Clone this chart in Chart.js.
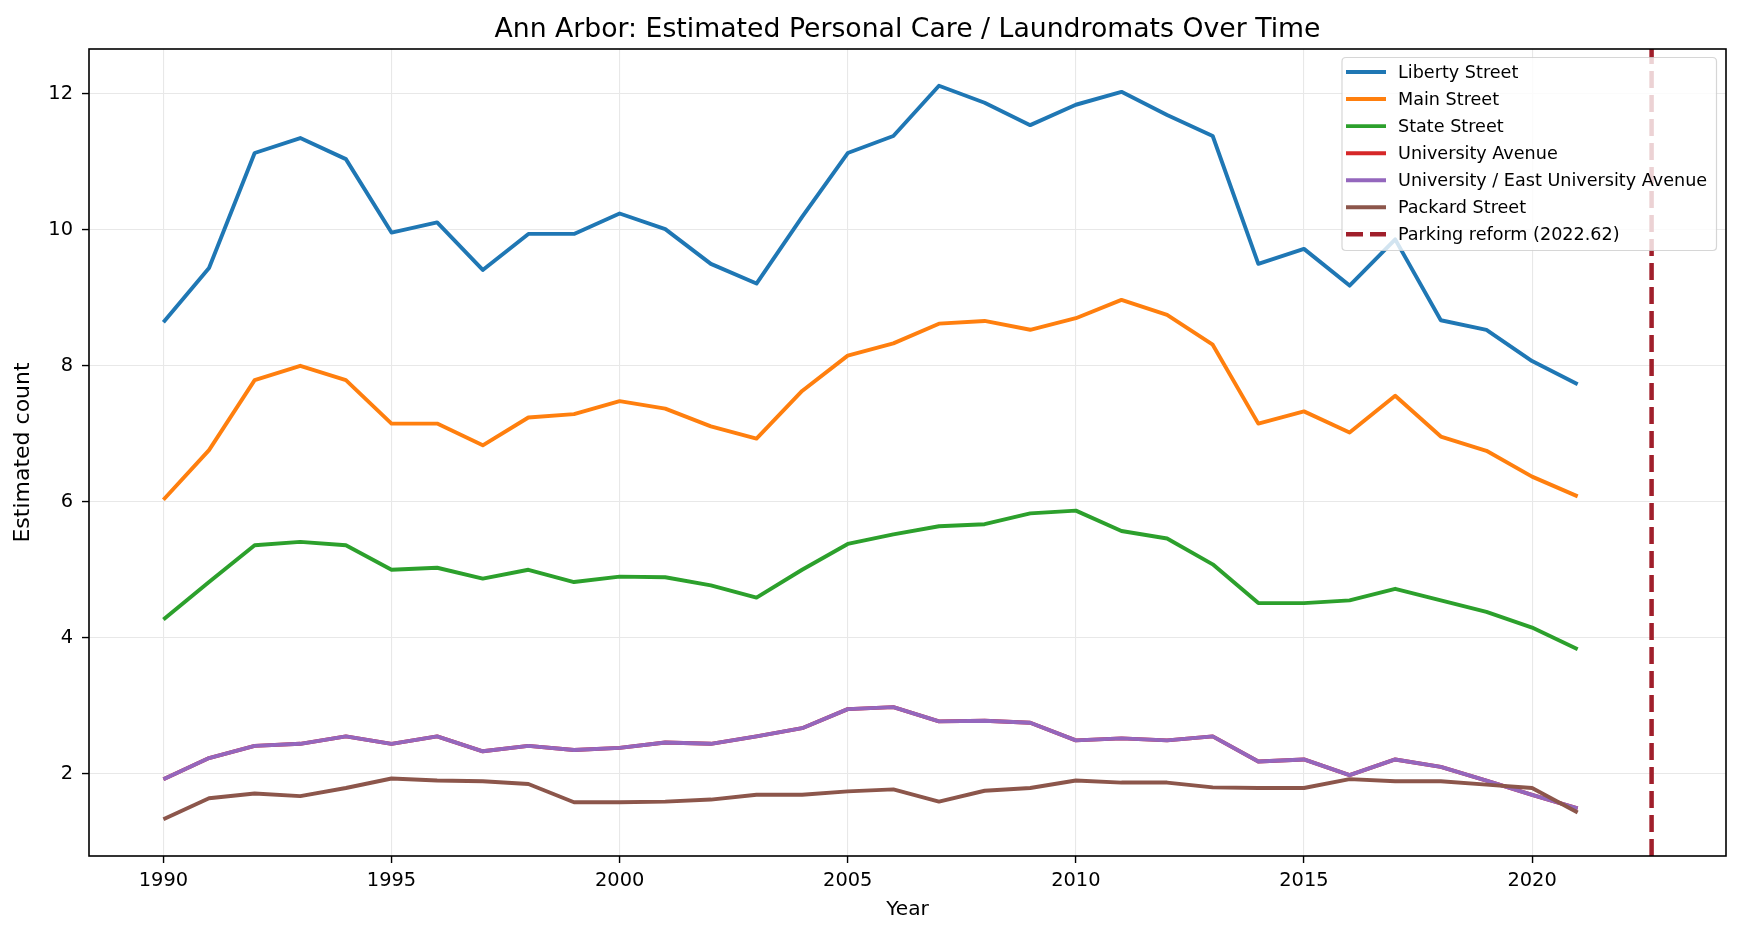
<!DOCTYPE html>
<html>
<head>
<meta charset="utf-8">
<script src="https://cdn.jsdelivr.net/npm/chart.js@4"></script>
<style>
html,body{margin:0;padding:0;background:#ffffff;}
#wrap{width:1741px;height:936px;}
</style>
</head>
<body>
<div id="wrap"><canvas id="c" width="1741" height="936"></canvas></div>
<script>
// ---- data ----
const years = [1990,1991,1992,1993,1994,1995,1996,1997,1998,1999,2000,2001,2002,2003,2004,2005,2006,2007,2008,2009,2010,2011,2012,2013,2014,2015,2016,2017,2018,2019,2020,2021];
const libertyStreet = [8.64,9.44,11.13,11.35,11.04,9.96,10.11,9.41,9.94,9.94,10.24,10.01,9.50,9.21,10.19,11.13,11.38,12.12,11.87,11.54,11.84,12.03,11.69,11.38,9.50,9.72,9.18,9.86,8.67,8.53,8.07,7.73];
const mainStreet = [6.03,6.76,7.79,8.00,7.79,7.15,7.15,6.83,7.24,7.29,7.48,7.37,7.11,6.93,7.63,8.15,8.33,8.62,8.66,8.53,8.70,8.97,8.75,8.31,7.15,7.33,7.02,7.56,6.96,6.75,6.37,6.08];
const stateStreet = [4.27,4.82,5.36,5.41,5.36,5.00,5.03,4.87,5.00,4.82,4.90,4.89,4.77,4.59,5.00,5.38,5.52,5.64,5.67,5.83,5.87,5.57,5.46,5.08,4.51,4.51,4.55,4.72,4.55,4.38,4.15,3.83];
const universityAvenue = [1.92,2.23,2.41,2.44,2.55,2.44,2.55,2.33,2.41,2.35,2.38,2.46,2.44,2.55,2.67,2.95,2.98,2.77,2.78,2.75,2.49,2.52,2.49,2.55,2.18,2.21,1.98,2.21,2.10,1.90,1.69,1.49];
const universityEast = [1.92,2.23,2.41,2.44,2.55,2.44,2.55,2.33,2.41,2.35,2.38,2.46,2.44,2.55,2.67,2.95,2.98,2.77,2.78,2.75,2.49,2.52,2.49,2.55,2.18,2.21,1.98,2.21,2.10,1.90,1.69,1.49];
const packardStreet = [1.33,1.64,1.71,1.67,1.79,1.93,1.90,1.89,1.85,1.58,1.58,1.59,1.62,1.69,1.69,1.74,1.77,1.59,1.75,1.79,1.90,1.87,1.87,1.80,1.79,1.79,1.92,1.89,1.89,1.84,1.79,1.43];
const seriesNames = ["Liberty Street","Main Street","State Street","University Avenue","University / East University Avenue","Packard Street"];
const seriesValues = [libertyStreet, mainStreet, stateStreet, universityAvenue, universityEast, packardStreet];
const reformYear = 2022.62;
const reformLabel = "Parking reform (2022.62)";
const xTicks = [1990,1995,2000,2005,2010,2015,2020];
const yTicks = [2,4,6,8,10,12];
const xMin = 1988.369, xMax = 2024.251;
const yMin = 0.79, yMax = 12.66;
const titleText = "Ann Arbor: Estimated Personal Care / Laundromats Over Time";
const xTitle = "Year";
const yTitle = "Estimated count";

// ---- styles ----
const seriesColors = ["#1f77b4","#ff7f0e","#2ca02c","#d62728","#9467bd","#8c564b"];
const reformColor = "#a01f2b";
const FONT = "'DejaVu Sans', 'Liberation Sans', sans-serif";
const LW = 3.9;
const DASH = [17, 7];

const datasets = seriesNames.map((name, i) => ({
  label: name,
  data: years.map((yr, j) => ({x: yr, y: seriesValues[i][j]})),
  borderColor: seriesColors[i],
  backgroundColor: seriesColors[i],
  borderWidth: LW,
  pointRadius: 0,
  pointHoverRadius: 0,
  fill: false,
  tension: 0,
  borderCapStyle: 'butt',
  borderJoinStyle: 'round',
  order: 20 - i
}));
datasets.push({
  label: reformLabel,
  data: [{x: reformYear, y: yMin}, {x: reformYear, y: yMax}],
  borderColor: reformColor,
  backgroundColor: reformColor,
  borderWidth: 4.5,
  borderDash: DASH,
  borderCapStyle: 'butt',
  pointRadius: 0,
  pointHoverRadius: 0,
  fill: false,
  order: 0
});

const framePlugin = {
  id: 'frame',
  afterDatasetsDraw(chart) {
    const {ctx, chartArea: a} = chart;
    ctx.save();
    ctx.strokeStyle = '#000';
    ctx.lineWidth = 1.6;
    ctx.strokeRect(a.left, a.top, a.right - a.left, a.bottom - a.top);
    ctx.restore();
  }
};

const decorPlugin = {
  id: 'decor',
  afterDraw(chart) {
    const {ctx, chartArea: a} = chart;
    ctx.save();
    // title
    ctx.fillStyle = '#000';
    ctx.font = `26.7px ${FONT}`;
    ctx.textAlign = 'center';
    ctx.textBaseline = 'alphabetic';
    ctx.fillText(titleText, (a.left + a.right) / 2, 36.5);

    // legend
    const bx = 1342, by = 57.5, bw = 1716.5 - 1342, bh = 250.5 - 57.5, r = 4;
    ctx.beginPath();
    ctx.moveTo(bx + r, by);
    ctx.lineTo(bx + bw - r, by);
    ctx.quadraticCurveTo(bx + bw, by, bx + bw, by + r);
    ctx.lineTo(bx + bw, by + bh - r);
    ctx.quadraticCurveTo(bx + bw, by + bh, bx + bw - r, by + bh);
    ctx.lineTo(bx + r, by + bh);
    ctx.quadraticCurveTo(bx, by + bh, bx, by + bh - r);
    ctx.lineTo(bx, by + r);
    ctx.quadraticCurveTo(bx, by, bx + r, by);
    ctx.closePath();
    ctx.fillStyle = 'rgba(255,255,255,0.8)';
    ctx.fill();
    ctx.strokeStyle = 'rgba(204,204,204,0.8)';
    ctx.lineWidth = 1.2;
    ctx.stroke();

    ctx.font = `17.6px ${FONT}`;
    ctx.textAlign = 'left';
    ctx.textBaseline = 'middle';
    chart.data.datasets.forEach((ds, i) => {
      const cy = 72 + i * 27.06;
      ctx.beginPath();
      ctx.strokeStyle = ds.borderColor;
      ctx.lineWidth = ds.borderWidth;
      ctx.lineCap = 'butt';
      ctx.setLineDash(ds.borderDash || []);
      ctx.moveTo(1346, cy);
      ctx.lineTo(1386, cy);
      ctx.stroke();
      ctx.setLineDash([]);
      ctx.fillStyle = '#000';
      ctx.fillText(ds.label, 1398, cy + 1.5);
    });
    ctx.restore();
  }
};

new Chart(document.getElementById('c'), {
  type: 'line',
  data: {datasets},
  options: {
    responsive: false,
    devicePixelRatio: 1,
    animation: false,
    events: [],
    layout: {padding: {left: 0, top: 49, right: 15, bottom: 0}},
    plugins: {legend: {display: false}, tooltip: {enabled: false}, title: {display: false}},
    scales: {
      x: {
        type: 'linear',
        min: xMin,
        max: xMax,
        afterBuildTicks: s => { s.ticks = xTicks.map(v => ({value: v})); },
        afterFit: s => { s.height = 80; },
        ticks: {
          font: {family: FONT, size: 19.4},
          color: '#000',
          padding: 6,
          maxRotation: 0,
          autoSkip: false,
          callback: v => String(v)
        },
        grid: {
          color: '#e8e8e8',
          lineWidth: 1.1,
          drawTicks: true,
          tickLength: 7,
          tickColor: '#000',
          tickWidth: 1.4
        },
        border: {display: false},
        title: {
          display: true,
          text: xTitle,
          color: '#000',
          font: {family: FONT, size: 20.2},
          padding: {top: 0, bottom: 13.8}
        }
      },
      y: {
        type: 'linear',
        min: yMin,
        max: yMax,
        afterBuildTicks: s => { s.ticks = yTicks.map(v => ({value: v})); },
        afterFit: s => { s.width = 89; },
        ticks: {
          font: {family: FONT, size: 19.4},
          color: '#000',
          padding: 9,
          autoSkip: false,
          callback: v => String(v)
        },
        grid: {
          color: '#e8e8e8',
          lineWidth: 1.1,
          drawTicks: true,
          tickLength: 7,
          tickColor: '#000',
          tickWidth: 1.4
        },
        border: {display: false},
        title: {
          display: true,
          text: yTitle,
          color: '#000',
          font: {family: FONT, size: 22},
          padding: {top: 9.8, bottom: 0}
        }
      }
    }
  },
  plugins: [framePlugin, decorPlugin]
});
</script>
</body>
</html>
